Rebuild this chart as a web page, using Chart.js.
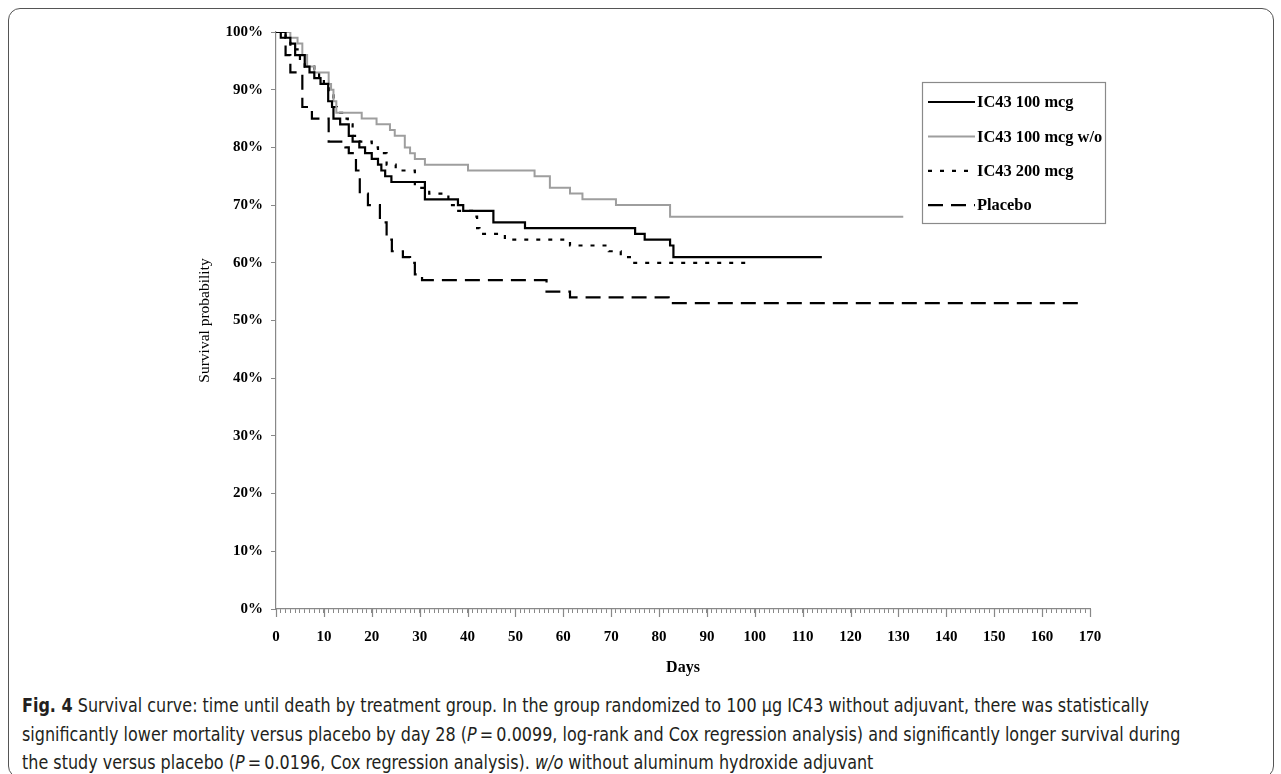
<!DOCTYPE html>
<html><head><meta charset="utf-8">
<script src="https://cdn.jsdelivr.net/npm/chart.js@4"></script>
<style>
html,body{margin:0;padding:0;background:#fff;}
body{width:1281px;height:774px;position:relative;overflow:hidden;}
#frame{position:absolute;left:8px;top:8px;width:1266px;height:770px;border:1.5px solid #555;border-radius:12px;box-sizing:border-box;}
#wrap{position:absolute;left:0;top:0;width:1281px;height:690px;}
#caption{position:absolute;left:22px;top:691px;font-family:"Liberation Sans Narrow","DejaVu Sans Condensed",sans-serif;font-size:19px;line-height:28.5px;color:#231f20;white-space:nowrap;transform:scaleX(0.936);transform-origin:0 0;}
</style></head>
<body>
<div id="frame"></div>
<div id="wrap"><canvas id="c"></canvas></div>
<div id="caption"><b>Fig. 4</b> Survival curve: time until death by treatment group. In the group randomized to 100 µg IC43 without adjuvant, there was statistically<br>significantly lower mortality versus placebo by day 28 (<i>P</i>&#8201;=&#8201;0.0099, log-rank and Cox regression analysis) and significantly longer survival during<br>the study versus placebo (<i>P</i>&#8201;=&#8201;0.0196, Cox regression analysis). <i>w/o</i> without aluminum hydroxide adjuvant</div>
<script>
// ---- data (days, survival %) ----
const ic43_100_days = [0, 2, 3, 4, 6, 7, 8, 9.3, 10.9, 11.7, 12, 13.4, 15.2, 16, 17.4, 18.6, 20, 21.3, 22, 22.8, 24.1, 31.1, 38, 39.1, 45.4, 52, 75, 77, 82.3, 83, 114];
const ic43_100_surv = [100, 99, 98, 96, 94, 93, 92, 91, 88, 87, 85, 84, 82, 81, 80, 79, 78, 77, 76, 75, 74, 71, 70, 69, 67, 66, 65, 64, 63, 61, 61];

const ic43_100wo_days = [0, 3, 4.5, 5.5, 6.5, 8, 11, 11.5, 12, 12.6, 17.9, 21, 23.8, 24.8, 26.9, 28, 29, 31.1, 40.1, 54, 57.2, 61.4, 64, 71, 82.3, 131];
const ic43_100wo_surv = [100, 99, 98, 96, 94, 93, 91, 90, 88, 86, 85, 84, 83, 82, 80, 79, 78, 77, 76, 75, 73, 72, 71, 70, 68, 68];

const ic43_200_days = [0, 2, 3, 5, 6, 8, 9, 10, 11, 12, 12.7, 13.8, 15, 16, 17.5, 20, 21.3, 23.1, 25, 29, 32, 36, 37.7, 41.5, 42, 42.5, 47.8, 61.4, 69.5, 72, 74.3, 99];
const ic43_200_surv = [100, 99, 97, 95, 94, 93, 92, 91, 89, 87, 86, 85, 84, 82, 81, 80, 79, 77, 76, 73, 72, 70, 69, 68, 66, 65, 64, 63, 62, 61, 60, 60];

const placebo_days = [0, 1, 2, 3, 5.5, 7.5, 11, 14.5, 15.2, 16.7, 17.5, 19.2, 21.7, 23.1, 24.2, 26.5, 28, 29, 30.5, 56.5, 61.4, 82, 168];
const placebo_surv = [100, 99, 96, 93, 87, 85, 81, 80, 79, 76, 72, 70, 67, 64, 62, 61, 60, 58, 57, 55, 54, 53, 53];

const seriesLabels = ['IC43 100 mcg', 'IC43 100 mcg w/o', 'IC43 200 mcg', 'Placebo'];
const xTickLabels = [0, 10, 20, 30, 40, 50, 60, 70, 80, 90, 100, 110, 120, 130, 140, 150, 160, 170];
const yTickLabels = [0, 10, 20, 30, 40, 50, 60, 70, 80, 90, 100];

const pts = (d, s) => d.map((x, i) => ({x: x, y: s[i]}));
const serif = '"Liberation Serif", "Times New Roman", serif';

const datasets = [
  {label: seriesLabels[0], data: pts(ic43_100_days, ic43_100_surv), borderColor: '#000', borderWidth: 2.2, borderDash: []},
  {label: seriesLabels[1], data: pts(ic43_100wo_days, ic43_100wo_surv), borderColor: '#9e9e9e', borderWidth: 2, borderDash: []},
  {label: seriesLabels[2], data: pts(ic43_200_days, ic43_200_surv), borderColor: '#000', borderWidth: 2.2, borderDash: [4, 8]},
  {label: seriesLabels[3], data: pts(placebo_days, placebo_surv), borderColor: '#000', borderWidth: 2.2, borderDash: [15, 8]}
].map(d => Object.assign(d, {stepped: 'before', fill: false, pointRadius: 0, tension: 0}));

const boxLegend = {
  id: 'boxLegend',
  afterDraw(chart) {
    const ctx = chart.ctx;
    ctx.save();
    // major x ticks (longer)
    const xs = chart.scales.x, yb = chart.chartArea.bottom;
    ctx.strokeStyle = '#888'; ctx.lineWidth = 1.2;
    xTickLabels.forEach(v => {
      const px = Math.round(xs.getPixelForValue(v)) + 0.5;
      ctx.beginPath(); ctx.moveTo(px, yb); ctx.lineTo(px, yb + 8); ctx.stroke();
    });
    // legend box
    ctx.strokeStyle = '#8a8a8a'; ctx.lineWidth = 1.2;
    ctx.strokeRect(922.5, 82.5, 183, 141);
    chart.data.datasets.forEach((ds, i) => {
      const y = 102 + i * 34.4;
      ctx.beginPath();
      ctx.setLineDash(ds.borderDash || []);
      ctx.strokeStyle = ds.borderColor; ctx.lineWidth = ds.borderWidth;
      ctx.moveTo(928, y); ctx.lineTo(975, y); ctx.stroke();
      ctx.setLineDash([]);
      ctx.fillStyle = '#000';
      ctx.font = 'bold 16.4px ' + serif;
      ctx.textBaseline = 'middle'; ctx.textAlign = 'left';
      ctx.fillText(ds.label, 977, y + 1);
    });
    ctx.restore();
  }
};

new Chart(document.getElementById('c'), {
  type: 'line',
  data: {datasets: datasets},
  plugins: [boxLegend],
  options: {
    responsive: true, maintainAspectRatio: false, animation: false,
    layout: {padding: {left: 193, top: 32, right: 191, bottom: 11}},
    plugins: {legend: {display: false}, tooltip: {enabled: false}},
    scales: {
      x: {
        type: 'linear', min: 0, max: 170,
        ticks: {stepSize: 1, autoSkip: false, maxTicksLimit: 400, maxRotation: 0, padding: 15,
          font: {family: serif, size: 15, weight: 'bold'}, color: '#000',
          callback: v => xTickLabels.includes(v) ? String(v) : ''},
        grid: {drawOnChartArea: false, tickLength: 4, color: '#888', tickColor: '#888', tickWidth: 1},
        border: {color: '#888', width: 1.2},
        title: {display: true, text: 'Days', font: {family: serif, size: 16, weight: 'bold'}, color: '#000', padding: {top: 4, bottom: 2}},
        afterFit(s) { s.height = 70; }
      },
      y: {
        min: 0, max: 100,
        ticks: {stepSize: 10, padding: 8, font: {family: serif, size: 15, weight: 'bold'}, color: '#000',
          callback: v => yTickLabels.includes(v) ? v + '%' : ''},
        grid: {drawOnChartArea: false, tickLength: 5, color: '#888', tickColor: '#888'},
        border: {color: '#888', width: 1.2},
        title: {display: true, text: 'Survival probability', font: {family: serif, size: 15.5}, color: '#000', padding: {top: 3, bottom: 4}},
        afterFit(s) { s.width = 83; }
      }
    }
  }
});
</script>
</body></html>
